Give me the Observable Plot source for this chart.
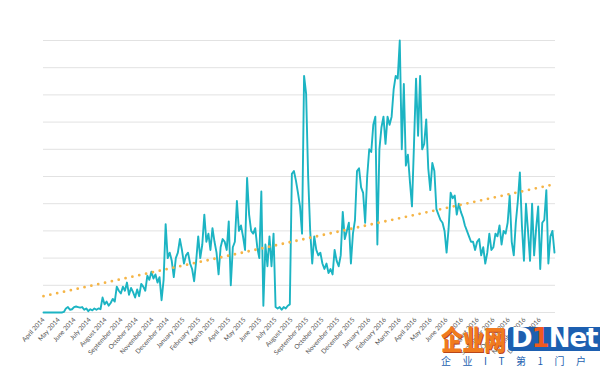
<!DOCTYPE html>
<html>
<head>
<meta charset="utf-8">
<script src="https://cdn.jsdelivr.net/npm/d3@7"></script>
<script src="https://cdn.jsdelivr.net/npm/@observablehq/plot@0.6"></script>
<style>
  html, body { margin: 0; padding: 0; background: #fff; }
  #wrap { position: relative; width: 600px; height: 369px; overflow: hidden; }
  #wm { position: absolute; left: 0; top: 0; width: 600px; height: 369px; pointer-events: none; font-family: "Noto Sans CJK SC", sans-serif; }
  .wm-cn { position: absolute; left: 441px; top: 323px; font-size: 27px; font-weight: 900; color: #f07b1f; line-height: 32px; transform: scaleX(0.8); transform-origin: left top; text-shadow: 1px 1px 0 #b8461a; white-space: nowrap; }
  .wm-box { position: absolute; left: 508px; top: 327px; height: 24px; width: 96px; background: #1d5fb0; border-radius: 4px; }
  .wm-en { position: absolute; left: 511px; top: 322px; font-family: "DejaVu Sans", sans-serif; font-size: 26px; font-weight: bold; color: #fff; line-height: 32px; letter-spacing: -1px; }
  .wm-en b { color: #f05a1e; }
  .wm-sub { position: absolute; left: 441px; top: 354px; font-size: 10px; color: #1d5fb0; letter-spacing: 11.5px; line-height: 14px; white-space: nowrap; }
</style>
</head>
<body>
<div id="wrap">
  <div id="chart"></div>
  <div id="wm">
    <div class="wm-cn">企业网</div>
    <div class="wm-box"></div>
    <div class="wm-en">D<b>1</b>Net</div>
    <div class="wm-sub">企业IT第1门户</div>
  </div>
</div>
<script>
// ---- data ----
const seriesStart = "2014-04-01";   // first sample
const sampleStepDays = 4;           // samples read every 4 days
const seriesValues = [
  0,0,0,0,0,0,0,0,0,0,
  0.02,0.15,0.2,0.1,0.12,0.2,0.22,0.2,0.18,0.2,
  0.1,0.15,0.05,0.12,0.08,0.15,0.1,0.15,0.12,0.55,
  0.3,0.4,0.25,0.35,0.5,0.4,0.95,0.8,0.7,0.95,
  0.8,1.1,0.65,0.9,0.75,0.55,0.85,0.6,1.05,0.95,
  0.8,1.35,1.2,1.5,1.25,1.4,1.1,1.3,0.45,1.2,
  3.25,2.0,2.2,1.9,1.3,2.0,2.2,2.7,2.3,1.8,
  2.1,2.2,1.8,1.6,1.15,1.9,2.8,2.0,2.5,3.6,
  2.6,2.9,2.3,3.1,2.6,2.2,1.4,2.4,2.7,2.6,
  2.3,3.35,1.0,2.4,2.6,4.1,3.0,3.2,2.8,2.3,
  4.95,3.6,3.0,2.9,3.1,2.4,2.0,4.45,0.25,2.5,
  1.7,2.8,1.7,2.9,0.2,0.15,0.2,0.1,0.2,0.15,
  0.25,0.3,5.1,5.2,4.85,4.4,3.9,2.9,8.7,8.05,
  5.0,3.0,1.8,2.8,2.3,2.1,2.2,1.8,1.6,1.8,
  1.45,1.6,1.4,2.3,1.9,1.7,2.1,3.7,2.7,3.0,
  3.3,1.8,2.9,3.4,5.2,5.3,4.6,4.4,3.3,5.0,
  6.0,5.9,6.9,7.2,2.5,6.0,6.8,7.2,6.2,7.2,
  6.9,7.2,8.2,8.7,8.6,10.0,6.0,8.4,5.4,5.8,
  4.8,3.9,6.2,8.6,6.5,8.7,6.0,6.2,7.1,5.3,
  4.5,5.5,5.2,3.8,3.6,3.4,3.3,3.0,2.2,3.1,
  4.4,4.2,4.3,3.6,4.0,3.7,3.5,3.2,3.0,2.8,
  2.6,2.6,2.3,2.6,2.7,2.1,2.4,1.8,2.2,2.9,
  2.3,2.4,2.9,2.8,3.2,2.5,3.0,2.9,3.3,4.3,
  2.6,2.1,3.3,4.1,5.15,3.2,1.9,4.0,3.0,1.9,
  4.0,2.1,3.1,3.9,1.6,3.3,3.4,4.5,1.8,2.8,
  3.0,2.2
];
const trendDates = ["2014-04-01", "2016-12-31"];
const trendValues = [0.6, 4.72];
const xDomain = ["2014-04-01", "2017-01-01"];
const yGridValues = [0,1,2,3,4,5,6,7,8,9,10];
const monthTickStart = "2014-04-01";
const monthTickEnd = "2017-01-01";

// ---- build tables ----
const series = seriesValues.map((v, i) => ({
  date: d3.utcDay.offset(new Date(seriesStart), i * sampleStepDays),
  value: v
}));
const trend = trendDates.map((d, i) => ({ date: new Date(d), value: trendValues[i] }));
const monthTicks = d3.utcMonth.range(new Date(monthTickStart), new Date(monthTickEnd));

const chart = Plot.plot({
  width: 600,
  height: 369,
  marginLeft: 43,
  marginRight: 45,
  marginTop: 40,
  marginBottom: 57,
  style: { fontFamily: "Lato, 'Open Sans', sans-serif", fontSize: "6.5px", color: "#555", background: "transparent" },
  x: {
    type: "utc",
    domain: xDomain.map(d => new Date(d)),
    ticks: monthTicks,
    tickFormat: d3.utcFormat("%B %Y"),
    tickRotate: -48,
    tickSize: 0,
    tickPadding: 6,
    label: null
  },
  y: { domain: [0, 10], axis: null },
  marks: [
    Plot.ruleY(yGridValues, { stroke: "#e2e2e2", strokeWidth: 1 }),
    Plot.lineY(series, { x: "date", y: "value", stroke: "#1cb4c3", strokeWidth: 1.9, strokeLinejoin: "round" }),
    Plot.lineY(trend, { x: "date", y: "value", stroke: "#f5b547", strokeWidth: 2.8, strokeDasharray: "0,7", strokeLinecap: "round" })
  ]
});
document.getElementById("chart").appendChild(chart);
</script>
</body>
</html>
